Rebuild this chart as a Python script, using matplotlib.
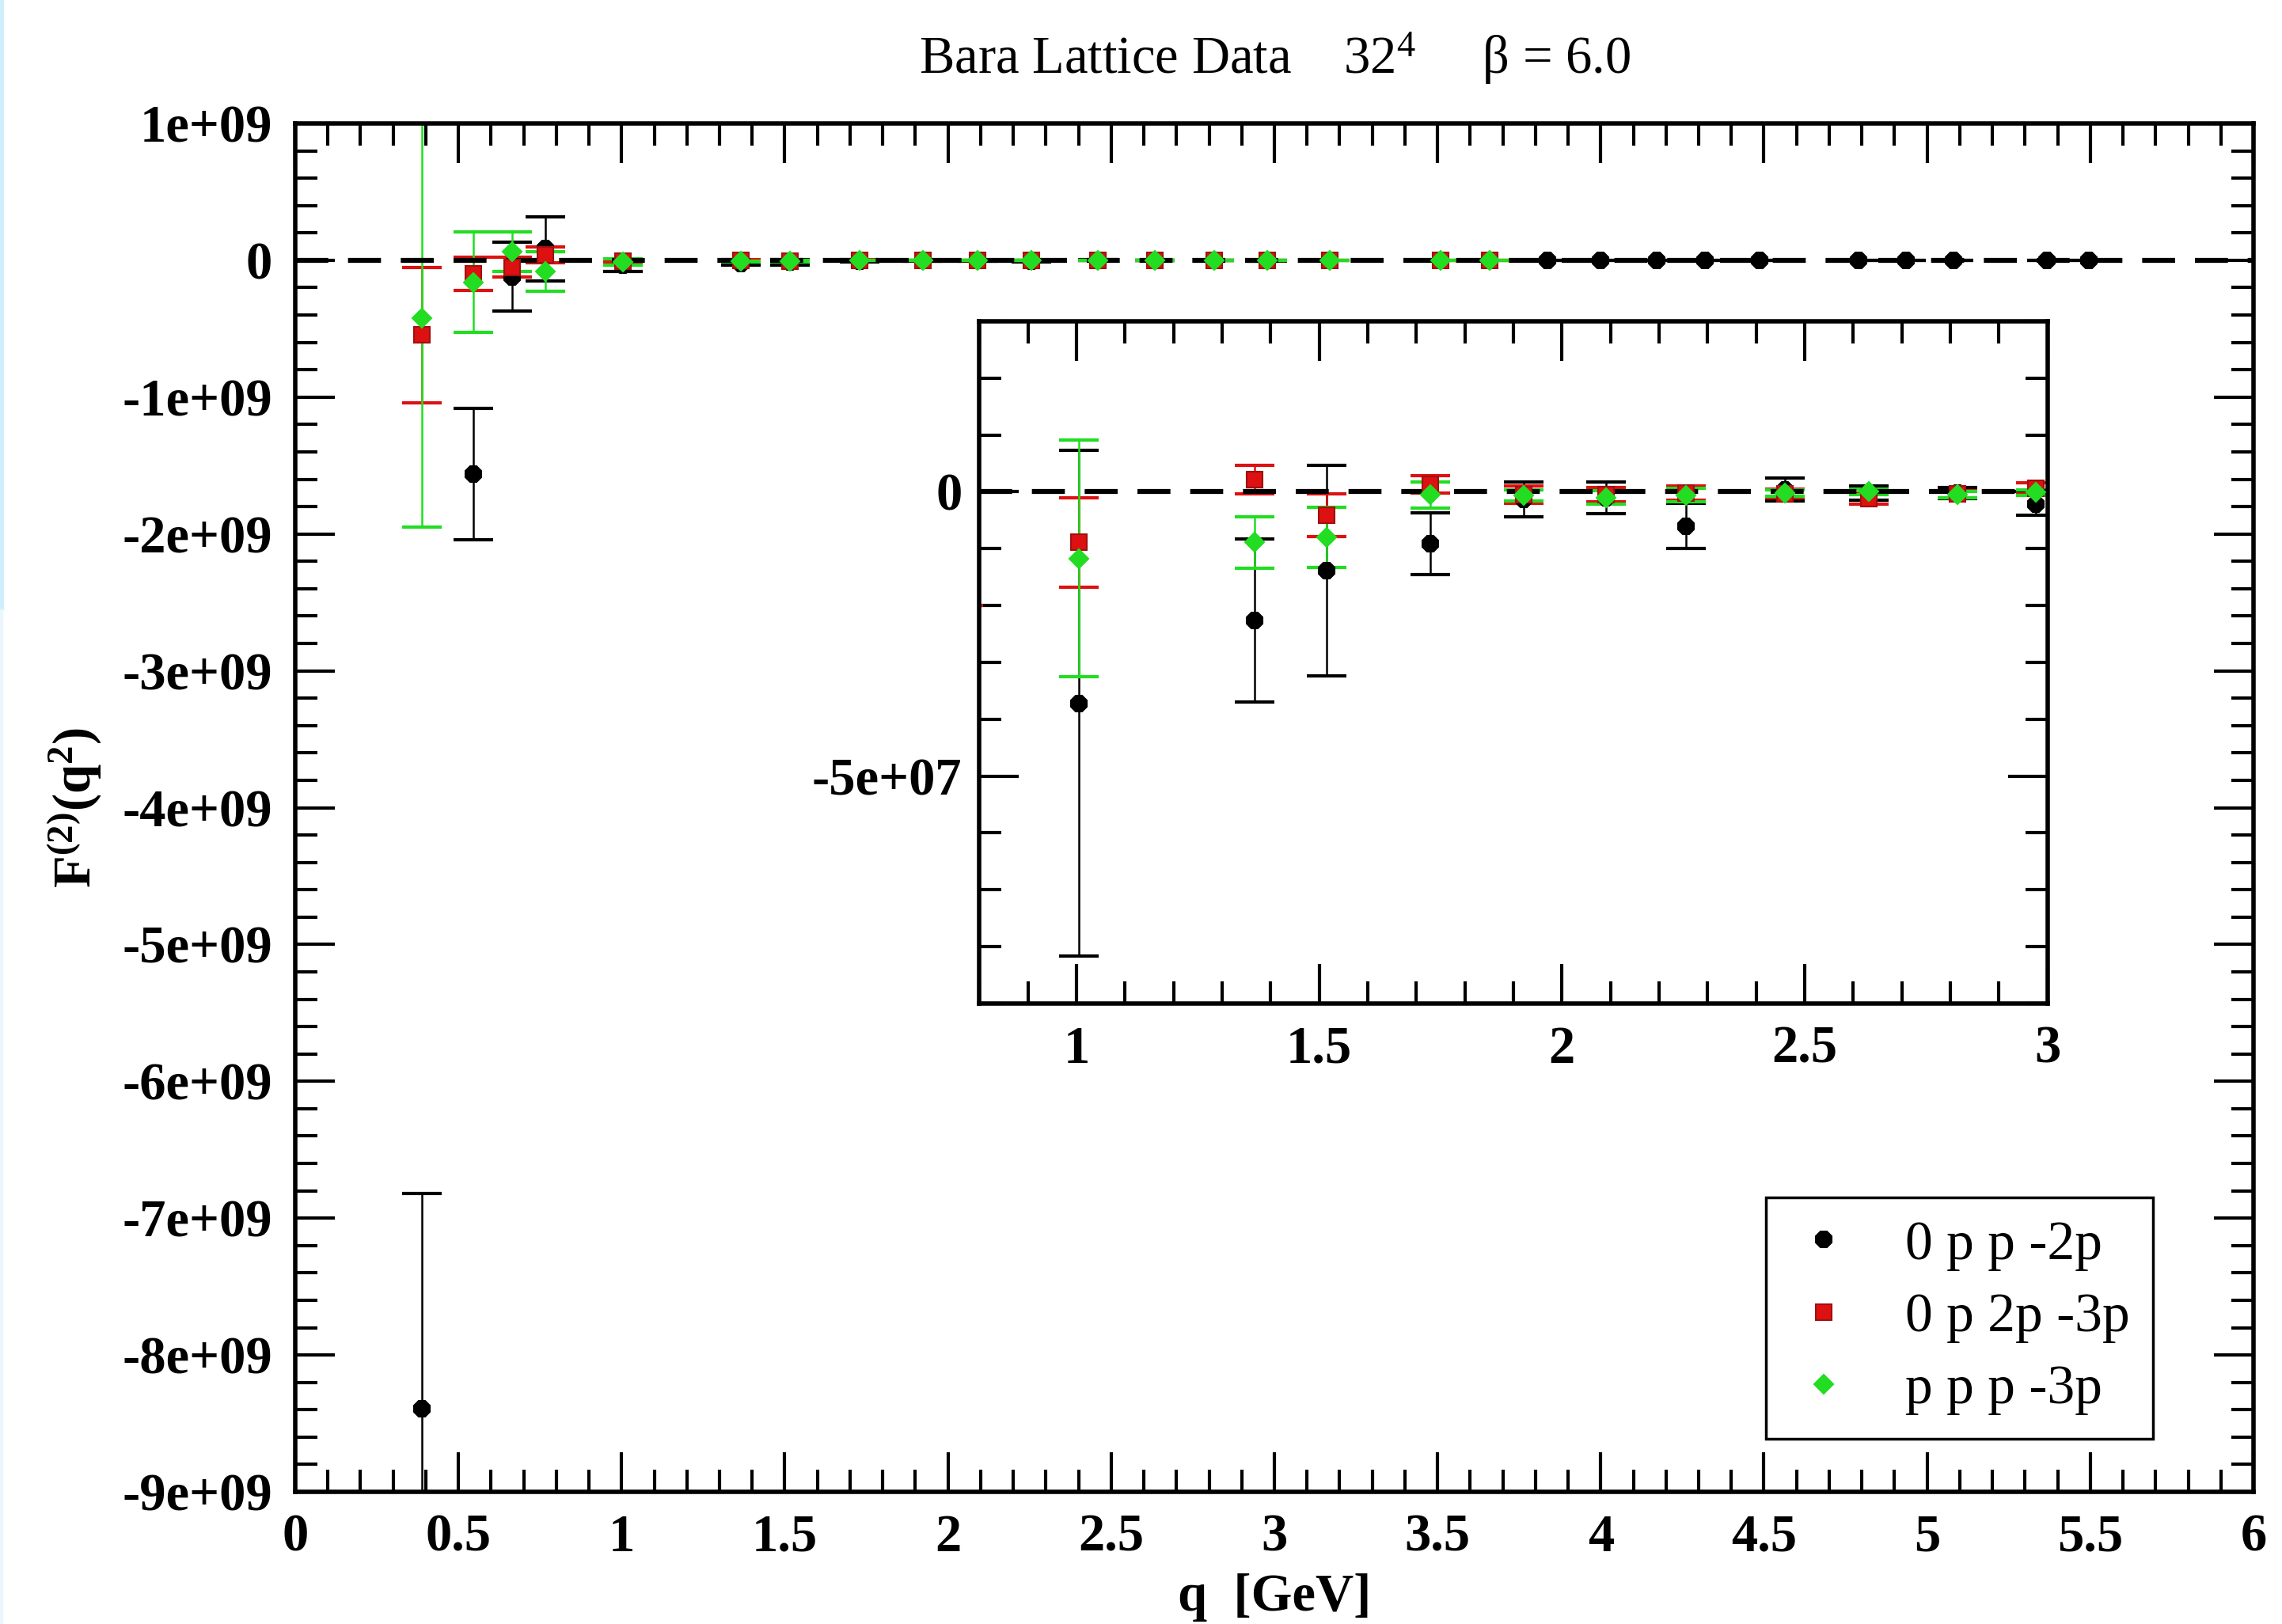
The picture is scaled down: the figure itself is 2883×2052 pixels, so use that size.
import numpy as np
import matplotlib.pyplot as plt
from matplotlib.lines import Line2D
from matplotlib.patches import Rectangle
from matplotlib.ticker import MultipleLocator, FuncFormatter

plt.rcParams['font.family'] = ['Liberation Serif', 'DejaVu Serif']
plt.rcParams['font.weight'] = 'bold'
plt.rcParams['axes.unicode_minus'] = False
plt.rcParams['mathtext.fontset'] = 'custom'
plt.rcParams['mathtext.rm'] = 'Liberation Serif:weight=normal'
plt.rcParams['mathtext.it'] = 'Liberation Serif:italic:weight=normal'
plt.rcParams['mathtext.bf'] = 'Liberation Serif:weight=bold'
plt.rcParams['lines.scale_dashes'] = False

# momentum configuration 0 p p -2p
q_a = [0.388, 0.546, 0.665, 0.767, 1.005, 1.366, 1.515, 1.729, 1.922, 2.091, 2.255,
       2.46, 2.633, 2.815, 2.977, 3.837, 4.0, 4.172, 4.32, 4.487, 4.79, 4.936, 5.081,
       5.367, 5.496]
f_a = [-8.39e9, -1.56e9, -0.12e9, 0.085e9, -3.72e7, -2.26e7, -1.39e7, -0.91e7, -0.13e7,
       -0.10e7, -0.60e7, 0.04e7, -0.02e7, -0.02e7, -0.21e7, -1.5e6, -1.0e6, -0.8e6,
       -0.6e6, -0.5e6, -0.4e6, -0.3e6, -0.3e6, -0.2e6, -0.2e6]
e_a = [1.57e9, 0.48e9, 0.25e9, 0.235e9, 4.45e7, 1.43e7, 1.85e7, 0.54e7, 0.31e7,
       0.28e7, 0.40e7, 0.20e7, 0.13e7, 0.10e7, 0.20e7, 1.0e6, 0.9e6, 0.8e6, 0.7e6,
       0.6e6, 0.5e6, 0.5e6, 0.4e6, 0.4e6, 0.4e6]

# momentum configuration 0 p 2p -3p
q_b = [0.388, 0.546, 0.665, 0.767, 1.005, 1.366, 1.515, 1.729, 1.922, 2.091, 2.255,
       2.46, 2.633, 2.815, 2.977, 3.17, 3.51, 3.66]
f_b = [-0.545e9, -0.10e9, -0.05e9, 0.04e9, -0.89e7, 0.21e7, -0.41e7, 0.13e7, -0.05e7,
       -0.05e7, -0.02e7, -0.03e7, -0.12e7, -0.04e7, 0.06e7, -0.05e7, -0.03e7, -0.02e7]
e_b = [0.495e9, 0.12e9, 0.07e9, 0.06e9, 0.79e7, 0.25e7, 0.37e7, 0.15e7, 0.15e7,
       0.12e7, 0.12e7, 0.08e7, 0.10e7, 0.06e7, 0.10e7, 0.05e7, 0.05e7, 0.05e7]

# momentum configuration p p p -3p
q_c = q_b
f_c = [-0.42e9, -0.16e9, 0.065e9, -0.08e9, -1.17e7, -0.89e7, -0.80e7, -0.05e7, -0.06e7,
       -0.10e7, -0.06e7, -0.02e7, 0.0, -0.05e7, -0.01e7, -0.04e7, -0.02e7, -0.02e7]
e_c = [1.53e9, 0.365e9, 0.145e9, 0.145e9, 2.08e7, 0.45e7, 0.53e7, 0.23e7, 0.10e7,
       0.12e7, 0.12e7, 0.05e7, 0.05e7, 0.05e7, 0.05e7, 0.04e7, 0.04e7, 0.04e7]

labels = ['0 p p -2p', '0 p 2p -3p', 'p p p -3p']
GREEN = '#22dd22'
RED = '#dd1111'
styles = [dict(marker='8', ms=16, mfc='k', mec='k', ecol='k'),
          dict(marker='s', ms=15, mfc=RED, mec='#a01010', ecol=RED),
          dict(marker='D', ms=12.5, mfc=GREEN, mec=GREEN, ecol=GREEN)]
series = [(q_a, f_a, e_a), (q_b, f_b, e_b), (q_c, f_c, e_c)]


def draw(a):
    for (q, f, e), st in zip(series, styles):
        a.errorbar(q, f, yerr=e, fmt='none', ecolor=st['ecol'], elinewidth=1.8,
                   capsize=18, capthick=3, zorder=2)
    a.axhline(0, color='k', lw=4.5, dashes=(30, 18), zorder=3)
    for (q, f, e), st in zip(series, styles):
        a.plot(q, f, ls='none', marker=st['marker'], ms=st['ms'], mfc=st['mfc'],
               mec=st['mec'], mew=1.5, zorder=4)


def style_axes(a, xmaj, xmin, ymaj, ymin, ypad):
    a.xaxis.set_major_locator(MultipleLocator(xmaj))
    a.xaxis.set_minor_locator(MultipleLocator(xmin))
    a.yaxis.set_major_locator(MultipleLocator(ymaj))
    a.yaxis.set_minor_locator(MultipleLocator(ymin))
    a.xaxis.set_major_formatter(FuncFormatter(lambda v, p: f'{v:g}'))
    a.yaxis.set_major_formatter(FuncFormatter(lambda v, p: '0' if v == 0 else f'{v:g}'))
    a.tick_params(which='both', direction='in', top=True, right=True, width=3,
                  labelsize=48)
    a.tick_params(which='major', length=36)
    a.tick_params(which='minor', length=20)
    a.tick_params(axis='x', pad=20)
    a.tick_params(axis='y', pad=ypad)
    for s in a.spines.values():
        s.set_linewidth(4)


fig = plt.figure(figsize=(28.83, 20.52), dpi=100)

# thin blue strip along the left border
fig.patches.append(Rectangle((0, 0.625), 0.0014, 0.375, transform=fig.transFigure,
                             color='#cfeffc', zorder=0))
fig.patches.append(Rectangle((0, 0), 0.0010, 0.625, transform=fig.transFigure,
                             color='#eaf7fd', zorder=0))

ax = fig.add_axes([0.12938, 0.08138, 0.85813, 0.84259])
draw(ax)
ax.set_xlim(0, 6)
ax.set_ylim(-9e9, 1e9)
style_axes(ax, 0.5, 0.1, 1e9, 2e8, 21)
ax.set_xlabel('q  [GeV]', fontsize=48, fontweight='bold')
ax.xaxis.set_label_coords(0.5, -0.0596)
ax.set_ylabel(r'$\mathbf{F^{(2)}(q^{2})}$', fontsize=48)
ax.yaxis.set_label_coords(-0.098, 0.5)

fig.text(0.5585, 0.9547, 'Bara Lattice Data    $32^4$     β = 6.0', fontsize=48,
         fontweight='normal', ha='center', va='baseline')

handles = [Line2D([], [], ls='none', marker=st['marker'], ms=st['ms'], mfc=st['mfc'],
                  mec=st['mec'], mew=1.5) for st in styles]
leg = ax.legend(handles, labels, loc='upper left', bbox_to_anchor=(0.751, 0.2152),
                borderaxespad=0, fancybox=False, framealpha=1, edgecolor='k',
                prop={'weight': 'normal', 'size': 50}, borderpad=0.42,
                handlelength=1.27, handletextpad=0.85, labelspacing=0.40,
                numpoints=1)
leg.get_frame().set_linewidth(2.5)

# zoom on the high-momentum region
ins = fig.add_axes([0.42924, 0.38207, 0.46792, 0.42008])
ins.set_facecolor('white')
draw(ins)
ins.set_xlim(0.8, 3.0)
ins.set_ylim(-9e7, 3e7)
style_axes(ins, 0.5, 0.1, 5e7, 1e7, 16)

fig.savefig('out.png', dpi=100)
